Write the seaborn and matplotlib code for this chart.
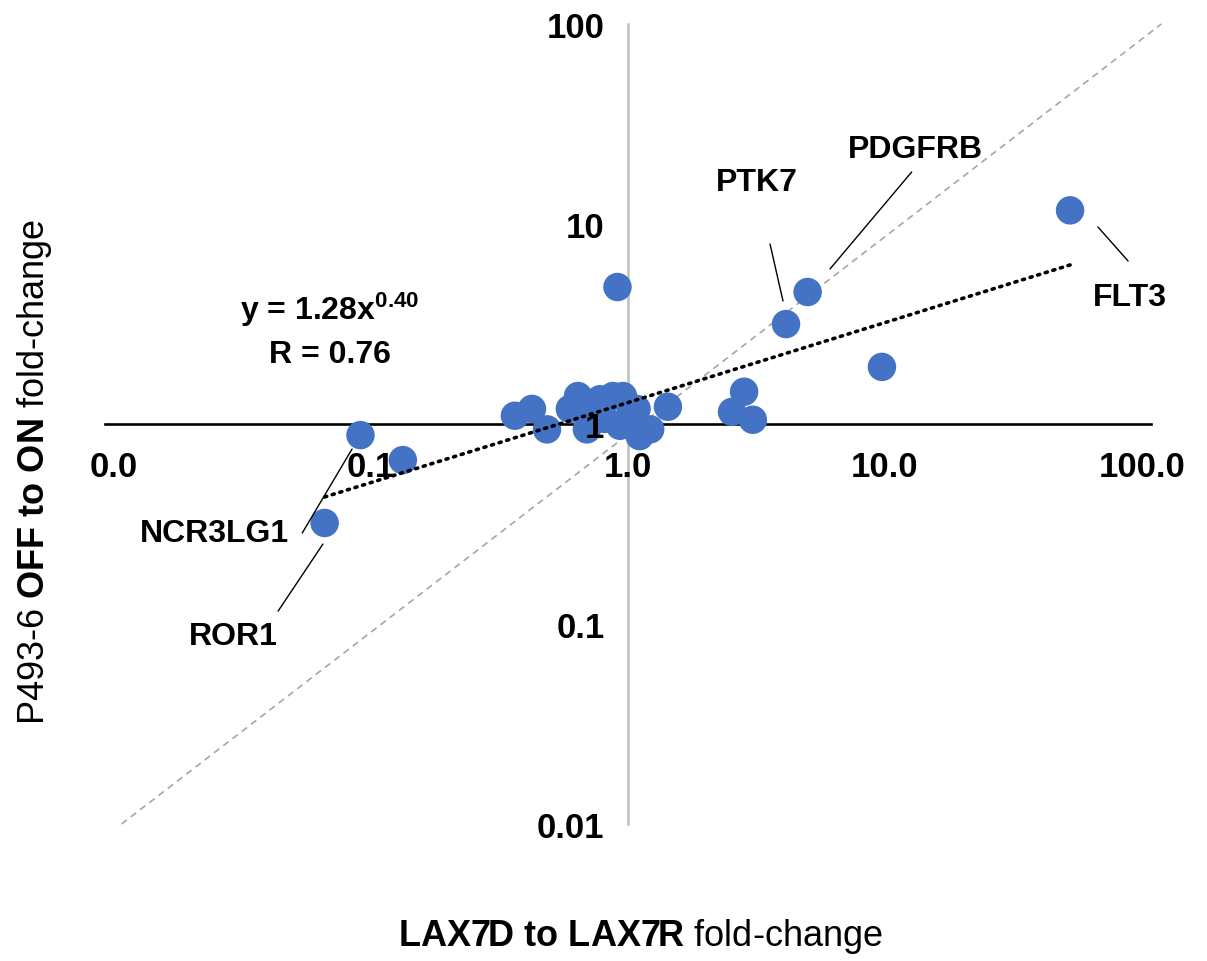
import numpy as np
import pandas as pd
import matplotlib
matplotlib.use("Agg")
import matplotlib.pyplot as plt
from matplotlib.ticker import FixedLocator, FixedFormatter
import seaborn as sns

# ---------------- data ----------------
genes = ["FLT3", "PDGFRB", "PTK7", "", "", "", "", "", "NCR3LG1", "", "ROR1",
         "", "", "", "", "", "", "", "", "", "", "", "", "", "", "", "", "", ""]
x_fc = [52.5, 5.0, 4.12, 0.91, 9.73, 2.83, 2.54, 3.06, 0.091, 0.133, 0.066,
        0.363, 0.423, 0.484, 0.594, 0.639, 0.692, 0.731, 0.778, 0.874, 0.956,
        0.81, 0.93, 1.02, 1.08, 1.11, 1.22, 1.43, 0.68]
y_fc = [11.7, 4.57, 3.16, 4.84, 1.93, 1.45, 1.15, 1.05, 0.88, 0.66, 0.32,
        1.10, 1.19, 0.94, 1.19, 1.38, 0.94, 1.15, 1.33, 1.38, 1.38,
        1.06, 0.98, 1.12, 1.19, 0.87, 0.94, 1.22, 1.26]

x_ticks = [0.01, 0.1, 1, 10, 100]
x_tick_labels = ["0.0", "0.1", "1.0", "10.0", "100.0"]
y_ticks = [0.01, 0.1, 1, 10, 100]
y_tick_labels = ["0.01", "0.1", "1", "10", "100"]

# power trendline y = a * x^b
fit_a, fit_b, fit_r = 1.28, 0.40, 0.76
fit_x_range = [0.066, 52.5]

# identity reference line
diag_x = [0.0107, 119.0]
diag_y = [0.01, 100.0]

# annotation: label, label position, leader start, leader end
ann_labels = ["FLT3", "PDGFRB", "PTK7", "NCR3LG1", "ROR1"]
ann_text_xy = [(89.8, 4.32), (13.1, 23.7), (3.18, 16.2), (0.0247, 0.285), (0.029, 0.0871)]
ann_line_a = [(67.4, 9.66), (12.7, 18.2), (3.57, 7.94), (0.054, 0.285), (0.0435, 0.116)]
ann_line_b = [(88.3, 6.53), (6.11, 5.96), (4.01, 4.12), (0.0844, 0.75), (0.065, 0.251)]

df = pd.DataFrame({"x": x_fc, "y": y_fc, "gene": genes})

# ---------------- style ----------------
sns.set_theme(style="white")
plt.rcParams["font.family"] = ["Liberation Sans", "DejaVu Sans"]
plt.rcParams["mathtext.fontset"] = "custom"
plt.rcParams["mathtext.rm"] = "Liberation Sans"
plt.rcParams["mathtext.bf"] = "Liberation Sans:bold"
plt.rcParams["mathtext.it"] = "Liberation Sans:italic"
plt.rcParams["text.color"] = "black"
plt.rcParams["xtick.color"] = "black"
plt.rcParams["ytick.color"] = "black"

W, H = 1207, 962
fig = plt.figure(figsize=(W / 100, H / 100), dpi=100)
ax = fig.add_axes([100 / W, (H - 840) / H, 1070 / W, 825 / H])
ax.set_xscale("log")
ax.set_yscale("log")
ax.set_xlim(10 ** -2.0545, 10 ** 2.109)
ax.set_ylim(10 ** -2.075, 10 ** 2.05)

blue = "#4472C4"
ax.plot(diag_x, diag_y, color="#A6A6A6", lw=1.2, ls=(0, (4, 3)), zorder=1)

sns.scatterplot(data=df, x="x", y="y", ax=ax, color=blue, s=420,
                edgecolor="none", linewidth=0, zorder=2, legend=False)

fx = np.geomspace(fit_x_range[0], fit_x_range[1], 200)
ax.plot(fx, fit_a * fx ** fit_b, color="black", lw=2.6, ls=(0, (0.6, 1.6)),
        dash_capstyle="round", zorder=4)

# spines through (1,1)
for s in ["top", "right"]:
    ax.spines[s].set_visible(False)
ax.spines["bottom"].set_position(("data", 1))
ax.spines["left"].set_position(("data", 1))
ax.spines["bottom"].set_color("black")
ax.spines["bottom"].set_linewidth(1.9)
ax.spines["left"].set_color("#BFBFBF")
ax.spines["left"].set_linewidth(1.8)
ax.spines["bottom"].set_bounds(10 ** -2.035, 10 ** 2.035)
ax.spines["left"].set_bounds(0.01, 100)
ax.spines["bottom"].set_zorder(1)
ax.spines["left"].set_zorder(1)

ax.xaxis.set_major_locator(FixedLocator(x_ticks))
ax.xaxis.set_major_formatter(FixedFormatter(x_tick_labels))
ax.yaxis.set_major_locator(FixedLocator(y_ticks))
ax.yaxis.set_major_formatter(FixedFormatter(y_tick_labels))
ax.xaxis.set_minor_locator(FixedLocator([]))
ax.yaxis.set_minor_locator(FixedLocator([]))
ax.tick_params(axis="x", length=0, pad=19, labelsize=25, labelcolor="black")
ax.tick_params(axis="y", length=0, pad=17, labelsize=25, labelcolor="black")
for lab in ax.get_xticklabels() + ax.get_yticklabels():
    lab.set_fontweight("bold")
ax.xaxis.set_zorder(5)
ax.yaxis.set_zorder(5)
ax.set_xlabel("")
ax.set_ylabel("")

# annotations
for lab, txy, a, b in zip(ann_labels, ann_text_xy, ann_line_a, ann_line_b):
    ax.text(txy[0], txy[1], lab, ha="center", va="center", fontsize=23,
            fontweight="bold", color="black", zorder=6)
    ax.plot([a[0], b[0]], [a[1], b[1]], color="black", lw=1.0, zorder=6)

# equation
ax.text(0.0692, 3.76, r"y = %.2fx$^{\mathbf{%.2f}}$" % (fit_a, fit_b),
        ha="center", va="center", fontsize=23, fontweight="bold",
        color="black", zorder=6)
ax.text(0.0692, 2.24, "R = %.2f" % fit_r, ha="center", va="center",
        fontsize=23, fontweight="bold", color="black", zorder=6)

# axis titles
fig.text(640 / W, 1 - 937 / H, r"$\mathbf{LAX7D\ to\ LAX7R}$ fold-change",
         ha="center", va="center", fontsize=26, color="black")
fig.text(35 / W, 1 - 472 / H, r"P493-6 $\mathbf{OFF\ to\ ON}$ fold-change",
         ha="center", va="center", fontsize=26, rotation=90, color="black")

fig.savefig("out.png", dpi=100)
